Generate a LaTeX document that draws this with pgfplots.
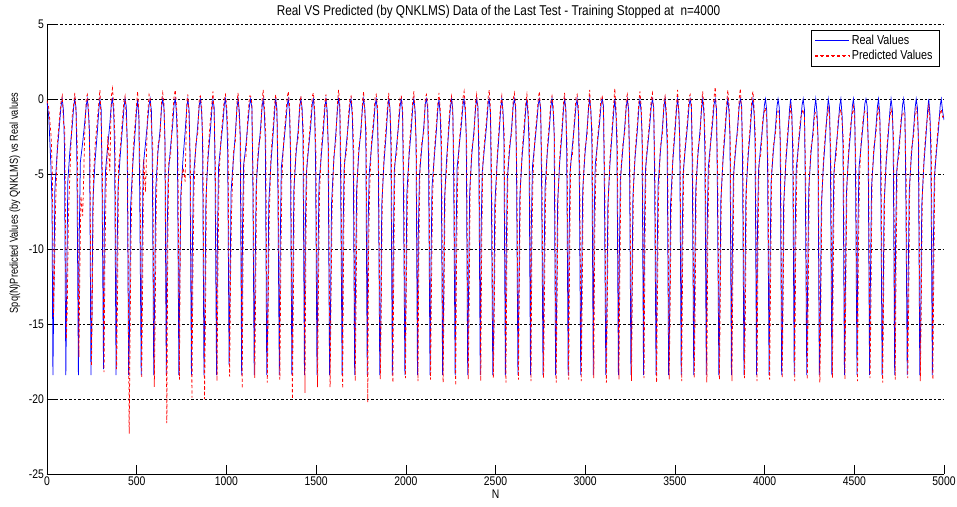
\documentclass[border=0pt]{standalone}
\usepackage{fontspec}
\setmainfont{Liberation Sans}[FakeStretch=0.83]
\newfontfamily\ylfont{Liberation Sans}[FakeStretch=0.8]
\usepackage{pgfplots}
\usepackage{pgfplotstable}
\pgfplotsset{compat=1.18}
\definecolor{mblue}{RGB}{0,0,255}
\definecolor{mred}{RGB}{255,0,0}
\definecolor{lblue}{RGB}{1,0,254}
\definecolor{lred}{RGB}{254,1,0}
\pgfplotstableread{
n real np pred
0 -0.2 0 -0.1
10 -1.2 10 -0.6
22 -4.5 23 -2.5
28 -7.0 30 -5.0
33 -18.4 36 -14.5
38 -13.0 41 -12.0
44 -6.0 47 -7.5
57 -3.5 58 -3.0
69 -1.8 70 -1.2
78 -0.5 78 -0.2
85 0.0 85 0.2
92 -0.8 92 -1.5
97 -3.0 99 -2.0
105 -18.4 108 -16.0
110 -12.5 113 -14.0
116 -5.5 119 -8.0
128 -3.4 129 -4.5
140 -1.9 140 -1.2
149 -0.5 149 -0.3
155 0.0 155 0.4
162 -0.6 162 -0.9
167 -4.5 169 -3.2
175 -18.4 178 -17.2
180 -9.0 183 -11.5
186 -4.2 189 -6.5
198 -3.0 199 -7.8
210 -1.6 210 -2.5
219 -0.4 219 0.1
225 0.0 225 0.3
232 -1.1 232 -0.7
237 -2.2 239 -4.0
245 -18.4 248 -17.8
250 -14.8 253 -13.0
256 -6.8 259 -5.2
268 -4.1 269 -3.0
280 -2.3 280 -1.5
289 -0.7 289 -0.2
295 0.0 295 0.6
302 -0.7 302 -1.6
307 -5.8 309 -5.0
315 -18.0 318 -18.2
320 -8.2 323 -10.5
326 -4.8 329 -6.0
338 -3.2 339 -2.5
350 -1.7 350 -4.8
359 -0.3 359 0.2
365 0.0 365 0.7
372 -0.9 372 -0.4
377 -3.6 379 -2.6
385 -18.4 388 -18.0
390 -11.0 393 -13.5
396 -5.9 399 -4.5
408 -3.8 409 -3.2
420 -2.0 420 -1.4
429 -0.6 429 -0.1
435 0.0 435 0.2
442 -0.5 442 -1.3
447 -2.8 449 -3.5
455 -18.4 458 -22.3
460 -15.5 463 -16.0
466 -7.2 469 -8.5
478 -4.4 479 -3.6
490 -2.4 490 -1.8
499 -0.8 499 -0.4
505 0.0 505 0.5
512 -1.2 512 -0.8
517 -6.5 519 -5.5
525 -18.4 528 -18.6
530 -10.0 533 -12.5
536 -4.5 539 -4.0
548 -3.1 549 -6.2
560 -1.6 560 -1.2
569 -0.4 569 0.3
575 0.0 575 0.1
582 -0.8 582 -1.8
587 -4.0 589 -3.0
595 -18.4 598 -19.2
600 -13.2 603 -14.5
606 -6.0 609 -7.0
618 -3.6 619 -3.0
630 -2.1 630 -2.6
639 -0.5 639 -0.1
645 0.0 645 0.4
652 -0.6 652 -0.3
657 -2.5 659 -3.8
665 -18.4 668 -21.6
670 -8.8 673 -10.0
676 -5.0 679 -4.2
688 -3.3 689 -3.8
700 -1.8 700 -1.1
709 -0.3 709 0.2
715 0.0 715 0.6
722 -1.0 722 -0.5
727 -3.3 729 -2.4
735 -18.4 738 -18.7
740 -12.0 743 -9.5
746 -6.4 749 -5.6
758 -4.0 759 -4.6
770 -2.2 770 -5.5
779 -0.6 779 -0.2
785 0.0 785 0.3
792 -0.7 792 -1.2
797 -3.8 799 -4.5
805 -18.4 808 -19.9
810 -10.5 813 -12.0
816 -5.2 819 -6.2
828 -3.5 829 -3.0
840 -1.8 840 -2.3
849 -0.4 849 0.1
855 0.0 855 0.2
862 -0.9 862 -0.5
867 -2.6 869 -3.2
875 -18.4 878 -20.0
880 -14.0 883 -15.0
886 -6.6 889 -5.8
898 -3.9 899 -3.3
910 -2.2 910 -1.5
919 -0.7 919 -0.3
925 0.0 925 0.5
932 -0.6 932 -1.1
937 -5.2 939 -4.6
945 -18.4 948 -18.8
950 -9.5 953 -11.0
956 -4.6 959 -5.2
968 -3.1 969 -2.7
980 -1.7 980 -1.2
989 -0.3 989 0.1
995 0.0 995 0.3
1002 -1.1 1002 -0.6
1007 -3.4 1009 -2.5
1015 -17.7 1018 -18.5
1020 -13.0 1023 -12.0
1026 -6.2 1029 -7.5
1038 -4.2 1039 -3.6
1050 -2.3 1050 -2.8
1059 -0.6 1059 -0.2
1065 0.0 1065 0.4
1072 -0.8 1072 -1.4
1077 -2.4 1079 -3.0
1085 -18.4 1088 -19.3
1090 -8.5 1093 -10.2
1096 -4.4 1099 -4.0
1108 -3.2 1109 -3.9
1120 -1.6 1120 -1.1
1129 -0.4 1129 0.2
1135 0.0 1135 0.2
1142 -0.6 1142 -0.3
1147 -4.8 1149 -5.6
1155 -18.4 1158 -18.6
1160 -11.8 1163 -13.0
1166 -5.8 1169 -5.0
1178 -3.7 1179 -3.1
1190 -2.0 1190 -2.5
1199 -0.5 1199 -0.1
1205 0.0 1205 0.6
1212 -1.0 1212 -0.6
1217 -2.9 1219 -2.2
1225 -18.4 1228 -18.9
1230 -15.2 1233 -14.0
1236 -7.0 1239 -7.8
1248 -4.3 1249 -3.6
1260 -2.4 1260 -1.9
1269 -0.8 1269 -0.3
1275 0.0 1275 0.3
1282 -0.7 1282 -1.2
1287 -6.0 1289 -5.2
1295 -18.4 1298 -18.7
1300 -9.8 1303 -11.5
1306 -4.6 1309 -5.5
1318 -3.2 1319 -2.8
1330 -1.7 1330 -1.2
1339 -0.4 1339 0.1
1345 0.0 1345 0.5
1352 -0.9 1352 -0.4
1357 -3.5 1359 -4.2
1365 -18.4 1368 -20.0
1370 -12.8 1373 -13.8
1376 -6.1 1379 -5.3
1388 -3.7 1389 -3.2
1400 -2.1 1400 -2.6
1409 -0.5 1409 -0.2
1415 0.0 1415 0.2
1422 -0.6 1422 -1.0
1427 -2.6 1429 -2.0
1435 -18.4 1438 -19.6
1440 -8.6 1443 -9.8
1446 -4.9 1449 -4.3
1458 -3.3 1459 -2.9
1470 -1.8 1470 -1.3
1479 -0.3 1479 0.2
1485 0.0 1485 0.4
1492 -1.1 1492 -0.7
1497 -4.2 1499 -3.6
1505 -18.4 1508 -19.2
1510 -11.5 1513 -12.8
1516 -5.7 1519 -6.4
1528 -3.9 1529 -3.3
1540 -2.2 1540 -1.7
1549 -0.6 1549 -0.2
1555 0.0 1555 0.3
1562 -0.8 1562 -1.3
1567 -2.9 1569 -3.4
1575 -18.4 1578 -19.2
1580 -14.6 1583 -13.5
1586 -7.0 1589 -7.6
1598 -4.2 1599 -3.8
1610 -2.3 1610 -2.8
1619 -0.7 1619 -0.3
1625 0.0 1625 0.6
1632 -0.5 1632 -0.2
1637 -5.6 1639 -4.9
1645 -18.4 1648 -19.3
1650 -9.2 1653 -10.4
1656 -4.7 1659 -4.1
1668 -3.1 1669 -3.6
1680 -1.6 1680 -1.2
1689 -0.3 1689 0.1
1695 0.0 1695 0.2
1702 -1.2 1702 -0.8
1707 -3.7 1709 -3.0
1715 -18.4 1718 -18.8
1720 -12.3 1723 -13.6
1726 -6.0 1729 -5.4
1738 -3.6 1739 -3.1
1750 -2.0 1750 -2.4
1759 -0.5 1759 -0.1
1765 0.0 1765 0.5
1772 -0.7 1772 -1.1
1777 -2.4 1779 -2.0
1785 -18.4 1788 -20.2
1790 -8.4 1793 -9.6
1796 -5.0 1799 -5.8
1808 -3.3 1809 -2.8
1820 -1.8 1820 -1.4
1829 -0.4 1829 0.1
1835 0.0 1835 0.3
1842 -0.9 1842 -0.5
1847 -4.6 1849 -5.2
1855 -18.4 1858 -18.7
1860 -15.0 1863 -14.2
1866 -7.1 1869 -6.5
1878 -4.3 1879 -3.7
1890 -2.4 1890 -1.9
1899 -0.7 1899 -0.3
1905 0.0 1905 0.4
1912 -0.6 1912 -1.0
1917 -3.1 1919 -2.6
1925 -18.4 1928 -18.9
1930 -10.2 1933 -11.4
1936 -4.8 1939 -4.2
1948 -3.2 1949 -3.7
1960 -1.7 1960 -1.3
1969 -0.4 1969 0.2
1975 0.0 1975 0.2
1982 -1.0 1982 -0.6
1987 -6.2 1989 -5.5
1995 -18.4 1998 -18.6
2000 -13.4 2003 -12.5
2006 -6.3 2009 -7.0
2018 -3.8 2019 -3.3
2030 -2.1 2030 -1.6
2039 -0.5 2039 -0.1
2045 0.0 2045 0.5
2052 -0.8 2052 -1.2
2057 -2.7 2059 -3.3
2065 -18.4 2068 -18.8
2070 -8.9 2073 -10.1
2076 -5.1 2079 -4.5
2088 -3.4 2089 -2.9
2100 -1.9 2100 -2.3
2109 -0.3 2109 0.1
2115 0.0 2115 0.3
2122 -0.6 2122 -0.3
2127 -4.3 2129 -3.7
2135 -18.4 2138 -18.7
2140 -11.6 2143 -12.7
2146 -5.9 2149 -6.6
2158 -4.0 2159 -3.5
2170 -2.2 2170 -1.8
2179 -0.6 2179 -0.2
2185 0.0 2185 0.4
2192 -1.1 2192 -0.7
2197 -3.2 2199 -2.7
2205 -18.4 2208 -18.9
2210 -14.2 2213 -13.4
2216 -6.7 2219 -6.1
2228 -3.9 2229 -4.4
2240 -2.0 2240 -1.5
2249 -0.5 2249 -0.1
2255 0.0 2255 0.2
2262 -0.7 2262 -1.1
2267 -5.4 2269 -4.8
2275 -18.4 2278 -19.1
2280 -9.4 2283 -10.6
2286 -4.6 2289 -5.3
2298 -3.1 2299 -2.7
2310 -1.7 2310 -1.3
2319 -0.4 2319 0.1
2325 0.0 2325 0.5
2332 -0.9 2332 -0.5
2337 -2.5 2339 -3.1
2345 -18.4 2348 -18.7
2350 -12.7 2353 -13.9
2356 -6.2 2359 -5.6
2368 -3.7 2369 -3.2
2380 -2.1 2380 -2.5
2389 -0.6 2389 -0.2
2395 0.0 2395 0.3
2402 -0.5 2402 -0.9
2407 -3.9 2409 -3.3
2415 -18.4 2418 -18.8
2420 -8.7 2423 -9.9
2426 -4.9 2429 -4.4
2438 -3.3 2439 -2.8
2450 -1.8 2450 -1.4
2459 -0.3 2459 0.1
2465 0.0 2465 0.6
2472 -1.0 2472 -0.6
2477 -6.3 2479 -5.7
2485 -18.4 2488 -18.6
2490 -15.3 2493 -14.5
2496 -7.1 2499 -7.7
2508 -4.4 2509 -3.9
2520 -2.3 2520 -1.9
2529 -0.7 2529 -0.3
2535 0.0 2535 0.2
2542 -0.8 2542 -1.2
2547 -2.8 2549 -2.3
2555 -18.4 2558 -18.9
2560 -10.1 2563 -11.3
2566 -5.3 2569 -4.7
2578 -3.5 2579 -3.0
2590 -1.9 2590 -2.3
2599 -0.4 2599 0.0
2605 0.0 2605 0.4
2612 -0.6 2612 -0.3
2617 -4.4 2619 -5.0
2625 -18.4 2628 -18.7
2630 -13.1 2633 -12.3
2636 -6.4 2639 -5.8
2648 -3.9 2649 -3.4
2660 -2.2 2660 -1.7
2669 -0.6 2669 -0.2
2675 0.0 2675 0.3
2682 -1.2 2682 -0.8
2687 -3.0 2689 -2.5
2695 -18.4 2698 -18.8
2700 -8.3 2703 -9.5
2706 -4.5 2709 -5.1
2718 -3.1 2719 -2.7
2730 -1.6 2730 -1.2
2739 -0.3 2739 0.1
2745 0.0 2745 0.5
2752 -0.7 2752 -1.1
2757 -5.7 2759 -5.1
2765 -18.4 2768 -18.6
2770 -11.9 2773 -13.1
2776 -6.0 2779 -6.6
2788 -3.7 2789 -3.2
2800 -2.0 2800 -1.6
2809 -0.5 2809 -0.1
2815 0.0 2815 0.2
2822 -0.9 2822 -0.5
2827 -2.3 2829 -2.9
2835 -18.4 2838 -18.9
2840 -14.5 2843 -13.7
2846 -7.0 2849 -6.4
2858 -4.2 2859 -3.7
2870 -2.4 2870 -2.0
2879 -0.7 2879 -0.3
2885 0.0 2885 0.4
2892 -0.6 2892 -1.0
2897 -3.6 2899 -3.0
2905 -18.4 2908 -18.7
2910 -9.6 2913 -10.8
2916 -4.8 2919 -4.2
2928 -3.2 2929 -3.7
2940 -1.7 2940 -1.3
2949 -0.4 2949 0.1
2955 0.0 2955 0.3
2962 -1.0 2962 -0.6
2967 -4.9 2969 -4.3
2975 -18.4 2978 -18.8
2980 -12.6 2983 -13.8
2986 -6.1 2989 -5.5
2998 -3.8 2999 -3.3
3010 -2.1 3010 -2.5
3019 -0.6 3019 -0.2
3025 0.0 3025 0.6
3032 -0.8 3032 -1.2
3037 -2.6 3039 -2.1
3045 -18.4 3048 -18.6
3050 -8.0 3053 -9.2
3056 -4.4 3059 -5.0
3068 -3.0 3069 -2.6
3080 -1.6 3080 -1.2
3089 -0.3 3089 0.2
3095 0.0 3095 0.2
3102 -0.5 3102 -0.9
3107 -6.0 3109 -5.4
3115 -18.4 3118 -18.9
3120 -14.9 3123 -14.1
3126 -7.2 3129 -6.6
3138 -4.3 3139 -3.8
3150 -2.3 3150 -1.9
3159 -0.8 3159 -0.3
3165 0.0 3165 0.7
3172 -1.1 3172 -0.7
3177 -3.3 3179 -2.8
3185 -18.4 3188 -18.7
3190 -10.8 3193 -12.0
3196 -5.4 3199 -4.8
3208 -3.6 3209 -3.1
3220 -1.9 3220 -2.3
3229 -0.5 3229 0.0
3235 0.0 3235 0.3
3242 -0.7 3242 -1.1
3247 -4.1 3249 -4.7
3255 -18.4 3258 -18.8
3260 -13.3 3263 -12.5
3266 -6.5 3269 -5.9
3278 -3.9 3279 -3.4
3290 -2.2 3290 -1.8
3299 -0.6 3299 -0.2
3305 0.0 3305 0.5
3312 -0.9 3312 -0.5
3317 -2.4 3319 -3.0
3325 -18.4 3328 -18.6
3330 -8.6 3333 -9.8
3336 -4.7 3339 -4.1
3348 -3.2 3349 -2.8
3360 -1.7 3360 -1.3
3369 -0.4 3369 0.1
3375 0.0 3375 0.4
3382 -0.6 3382 -1.0
3387 -5.5 3389 -4.9
3395 -18.4 3398 -18.9
3400 -11.7 3403 -12.9
3406 -5.8 3409 -6.4
3418 -3.7 3419 -3.2
3430 -2.0 3430 -2.4
3439 -0.5 3439 -0.1
3445 0.0 3445 0.2
3452 -1.2 3452 -0.8
3457 -3.1 3459 -2.6
3465 -18.4 3468 -18.7
3470 -15.1 3473 -14.3
3476 -7.0 3479 -7.6
3488 -4.2 3489 -3.7
3500 -2.3 3500 -1.9
3509 -0.7 3509 -0.3
3515 0.0 3515 0.6
3522 -0.8 3522 -1.2
3527 -2.7 3529 -3.3
3535 -18.4 3538 -18.8
3540 -9.9 3543 -11.1
3546 -5.0 3549 -4.4
3558 -3.3 3559 -2.9
3570 -1.8 3570 -1.4
3579 -0.4 3579 0.1
3585 0.0 3585 0.3
3592 -0.6 3592 -0.3
3597 -4.6 3599 -4.0
3605 -18.4 3608 -18.6
3610 -12.4 3613 -13.6
3616 -6.1 3619 -5.5
3628 -3.8 3629 -3.3
3640 -2.1 3640 -2.5
3649 -0.6 3649 -0.2
3655 0.0 3655 0.5
3662 -1.0 3662 -0.6
3667 -3.4 3669 -2.9
3675 -18.4 3678 -18.9
3680 -8.5 3683 -9.7
3686 -4.6 3689 -5.2
3698 -3.1 3699 -2.7
3710 -1.6 3710 -1.2
3719 -0.3 3719 0.2
3725 0.0 3725 0.8
3732 -0.7 3732 -1.1
3737 -6.1 3739 -5.5
3745 -18.4 3748 -18.7
3750 -14.0 3753 -13.2
3756 -6.8 3759 -6.2
3768 -4.1 3769 -3.6
3780 -2.2 3780 -1.8
3789 -0.6 3789 -0.2
3795 0.0 3795 0.6
3802 -0.9 3802 -0.5
3807 -2.5 3809 -3.1
3815 -18.4 3818 -18.8
3820 -10.6 3823 -11.8
3826 -5.2 3829 -4.6
3838 -3.5 3839 -3.0
3850 -1.8 3850 -2.2
3859 -0.4 3859 0.1
3865 0.0 3865 0.7
3872 -0.5 3872 -0.9
3877 -4.3 3879 -3.7
3885 -18.4 3888 -18.6
3890 -12.9 3893 -14.1
3896 -6.3 3899 -5.7
3908 -3.9 3909 -3.4
3920 -2.1 3920 -1.7
3929 -0.5 3929 0.1
3935 0.0 3935 0.5
3942 -1.1 3942 -0.7
3947 -3.0 3949 -2.5
3955 -18.4 3958 -18.8
3960 -8.9 3963 -10.1
3966 -4.8 3969 -4.2
3978 -3.2 3979 -3.7
3990 -1.7 3990 -1.3
3999 -0.4 3999 -0.8
4005 0.0 4005 -0.6
4012 -0.8 4012 -1.3
4017 -5.0 4019 -4.4
4025 -18.4 4028 -18.7
4030 -11.4 4033 -12.6
4036 -5.6 4039 -5.0
4048 -3.6 4049 -3.1
4060 -2.0 4060 -2.4
4069 -0.5 4069 -1.0
4075 0.0 4075 -0.8
4082 -0.6 4082 -1.1
4087 -2.8 4089 -3.4
4095 -18.4 4098 -18.6
4100 -14.7 4103 -13.9
4106 -7.1 4109 -6.5
4118 -4.3 4119 -3.8
4130 -2.4 4130 -2.0
4139 -0.7 4139 -1.1
4145 0.0 4145 -0.5
4152 -1.0 4152 -1.4
4157 -3.7 4159 -3.1
4165 -18.4 4168 -18.8
4170 -9.3 4173 -10.5
4176 -4.7 4179 -5.3
4188 -3.2 4189 -2.8
4200 -1.7 4200 -1.3
4209 -0.4 4209 -0.9
4215 0.0 4215 -0.7
4222 -0.7 4222 -1.2
4227 -5.9 4229 -5.3
4235 -18.4 4238 -18.7
4240 -12.2 4243 -13.4
4246 -6.0 4249 -5.4
4258 -3.7 4259 -3.2
4270 -2.1 4270 -2.5
4279 -0.6 4279 -1.0
4285 0.0 4285 -0.9
4292 -0.9 4292 -1.3
4297 -2.4 4299 -3.0
4305 -18.4 4308 -18.9
4310 -15.4 4313 -14.6
4316 -7.2 4319 -6.6
4328 -4.4 4329 -3.9
4340 -2.4 4340 -2.0
4349 -0.8 4349 -1.2
4355 0.0 4355 -0.6
4362 -0.6 4362 -1.1
4367 -4.2 4369 -3.6
4375 -18.4 4378 -18.6
4380 -10.0 4383 -11.2
4386 -5.0 4389 -4.4
4398 -3.3 4399 -3.8
4410 -1.8 4410 -1.4
4419 -0.4 4419 -0.9
4425 0.0 4425 -0.7
4432 -1.1 4432 -1.5
4437 -3.2 4439 -2.7
4445 -18.4 4448 -18.7
4450 -13.0 4453 -12.2
4456 -6.3 4459 -5.7
4468 -3.8 4469 -3.3
4480 -2.1 4480 -1.7
4489 -0.5 4489 -1.0
4495 0.0 4495 -0.5
4502 -0.8 4502 -1.2
4507 -5.3 4509 -4.7
4515 -18.4 4518 -18.8
4520 -8.8 4523 -10.0
4526 -4.6 4529 -5.2
4538 -3.1 4539 -2.7
4550 -1.6 4550 -1.2
4559 -0.3 4559 -0.8
4565 0.0 4565 -0.8
4572 -0.5 4572 -1.0
4577 -2.7 4579 -3.3
4585 -18.4 4588 -18.6
4590 -12.0 4593 -13.2
4596 -5.9 4599 -5.3
4608 -3.7 4609 -3.2
4620 -2.0 4620 -2.4
4629 -0.5 4629 -1.0
4635 0.0 4635 -0.6
4642 -1.0 4642 -1.4
4647 -4.5 4649 -3.9
4655 -18.4 4658 -18.9
4660 -14.4 4663 -13.6
4666 -7.0 4669 -6.4
4678 -4.2 4679 -3.7
4690 -2.3 4690 -1.9
4699 -0.7 4699 -1.1
4705 0.0 4705 -0.7
4712 -0.7 4712 -1.2
4717 -3.0 4719 -2.5
4725 -18.4 4728 -18.7
4730 -9.7 4733 -10.9
4736 -4.9 4739 -4.3
4748 -3.3 4749 -3.8
4760 -1.8 4760 -1.4
4769 -0.4 4769 -0.9
4775 0.0 4775 -0.9
4782 -0.9 4782 -1.3
4787 -6.0 4789 -5.4
4795 -18.4 4798 -18.6
4800 -12.5 4803 -13.7
4806 -6.2 4809 -5.6
4818 -3.8 4819 -3.3
4830 -2.1 4830 -2.5
4839 -0.6 4839 -1.0
4845 0.0 4845 -0.6
4852 -0.6 4852 -1.1
4857 -2.5 4859 -3.1
4865 -18.4 4868 -18.8
4870 -15.0 4873 -14.2
4876 -7.1 4879 -6.5
4888 -4.3 4889 -3.8
4900 -2.4 4900 -2.0
4909 -0.7 4909 -1.1
4915 0.0 4915 -0.5
4922 -1.1 4922 -1.5
4927 -3.8 4929 -3.2
4935 -18.4 4938 -18.7
4940 -10.4 4943 -11.6
4946 -5.3 4949 -4.7
4958 -3.5 4959 -3.0
4970 -1.9 4970 -1.5
4979 -0.4 4979 -0.9
4985 0.0 4985 -0.7
4992 -0.8 4992 -1.2
5000 -1.4 5000 -1.1
}\datatable
\begin{document}
\begin{tikzpicture}
\useasboundingbox (-47bp,-33bp) rectangle (910bp,474bp);
\begin{axis}[
  at={(0,0)}, anchor=south west,
  scale only axis, width=897bp, height=450bp,
  xmin=0, xmax=5000, ymin=-25, ymax=5,
  enlargelimits=false,
  axis x line*=bottom, axis y line*=left,
  axis line style={black, line width=0.5bp},
  tick align=inside,
  major tick length=9bp,
  tick style={black, line width=0.5bp},
  xtick={0,500,1000,1500,2000,2500,3000,3500,4000,4500,5000},
  xticklabels={0,500,1000,1500,2000,2500,3000,3500,4000,4500,5000},
  ytick={-25,-20,-15,-10,-5,0,5},
  yticklabels={-25,-20,-15,-10,-5,0,5},
  ymajorgrids,
  grid style={black, line width=0.5bp, dash pattern=on 2.5bp off 2bp},
  ticklabel style={font=\fontsize{12.5bp}{14bp}\selectfont},
  xticklabel style={inner sep=1bp, yshift=-2bp},
  yticklabel style={inner sep=1bp, xshift=-2bp},
  title={Real VS Predicted (by QNKLMS) Data of the Last Test - Training Stopped at\ \ n=4000},
  title style={font=\fontsize{14.2bp}{15bp}\selectfont, at={(axis description cs:0.5,1)}, anchor=south, yshift=-2bp, xshift=3bp, inner sep=1bp},
  xlabel={N},
  xlabel style={font=\fontsize{12.5bp}{14bp}\selectfont, at={(axis description cs:0.5,0)}, anchor=center, yshift=-20bp},
  ylabel={Spq(N)Predicted Values (by QNKLMS) vs Real values},
  ylabel style={font=\ylfont\fontsize{11.5bp}{12bp}\selectfont, at={(axis description cs:-0.0357,0.602)}, anchor=center},
  legend style={at={(axis description cs:1,1)}, anchor=north east, xshift=-5bp, yshift=-6bp,
    fill=white, inner xsep=4bp, inner ysep=2.5bp,
    font=\fontsize{13bp}{14bp}\selectfont, row sep=0bp,
    nodes={inner sep=2.2bp}},
  legend cell align=left,
]
\addplot[color=mblue, line width=0.75bp,
  legend image code/.code={\draw[lblue, line width=0.8bp] (0bp,0bp) -- (34bp,0bp);}]
  table[x=n,y=real]{\datatable};
\addlegendentry{Real Values}
\addplot[color=mred, line width=0.75bp, dash pattern=on 3bp off 2.5bp,
  legend image code/.code={%
    \fill[lred] (0bp,-0.45bp) rectangle (3bp,0.45bp);
    \fill[lred] (5.5bp,-0.45bp) rectangle (8.5bp,0.45bp);
    \fill[lred] (11bp,-0.45bp) rectangle (14bp,0.45bp);
    \fill[lred] (16.5bp,-0.45bp) rectangle (19.5bp,0.45bp);
    \fill[lred] (22bp,-0.45bp) rectangle (25bp,0.45bp);
    \fill[lred] (27.5bp,-0.45bp) rectangle (30.5bp,0.45bp);
    \fill[lred] (33bp,-0.45bp) rectangle (34bp,0.45bp);}]
  table[x=np,y=pred]{\datatable};
\addlegendentry{Predicted Values}
\end{axis}
\end{tikzpicture}
\end{document}
